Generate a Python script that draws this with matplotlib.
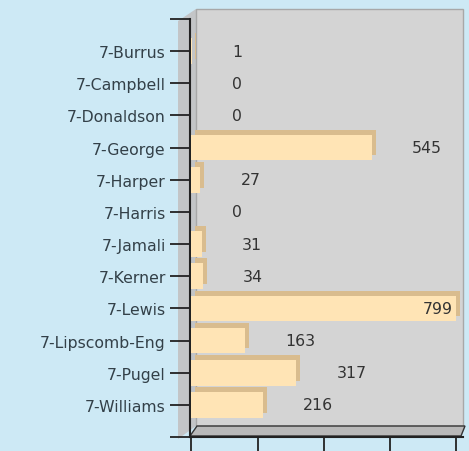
import matplotlib
matplotlib.use("Agg")
import matplotlib.pyplot as plt
import matplotlib.transforms as mtransforms
from matplotlib.patches import Polygon, Rectangle

names = ["7-Burrus", "7-Campbell", "7-Donaldson", "7-George", "7-Harper", "7-Harris",
         "7-Jamali", "7-Kerner", "7-Lewis", "7-Lipscomb-Eng", "7-Pugel", "7-Williams"]
votes = [1, 0, 0, 545, 27, 0, 31, 34, 799, 163, 317, 216]
x_ticks = [0, 200, 400, 600, 800]

W, H = 469, 452
fig = plt.figure(figsize=(W / 100, H / 100), dpi=100, facecolor="#cde9f5")


def px(x, y):
    # pixel coords (top-left origin) -> figure fraction
    return (x / W, 1 - y / H)


# 3d box decoration: left wall, back wall, floor
fig.patches.append(Polygon([px(178, 22), px(196, 10), px(196, 427), px(178, 440)],
                           closed=True, transform=fig.transFigure,
                           facecolor="#c3c5c7", edgecolor="none", zorder=0))
fig.patches.append(Rectangle(px(196, 427), 267 / W, 417 / H, transform=fig.transFigure,
                             facecolor="#d4d4d4", edgecolor="#a8a8a8", lw=1, zorder=0))
fig.patches.append(Polygon([px(190, 437), px(197, 427), px(465, 427), px(461, 437)],
                           closed=True, transform=fig.transFigure,
                           facecolor="#b9b9b9", edgecolor="#333333", lw=1, zorder=0))

ax = fig.add_axes([190 / W, (H - 438) / H, 273 / W, 418 / H])
ax.set_facecolor("none")
ax.set_zorder(2)

ypos = list(range(len(names)))
shadow = ax.transData + mtransforms.ScaledTranslation(4 / 100, 5 / 100, fig.dpi_scale_trans)
ax.barh(ypos, votes, height=0.8, color="#d9bc8e", transform=shadow, zorder=2)
ax.barh(ypos, votes, height=0.8, color="#ffe4b5", zorder=3)

xmax = 821
ax.set_xlim(-4.5, xmax)
ax.set_ylim(12, -1)

for y, v in zip(ypos, votes):
    if v > 650:
        ax.annotate(str(v), (v, y), xytext=(-2, 0), textcoords="offset points",
                    ha="right", va="center", fontsize=11.3, color="#333333", zorder=4)
    else:
        ax.annotate(str(v), (v, y), xytext=(29, 0), textcoords="offset points",
                    ha="left", va="center", fontsize=11.3, color="#333333", zorder=4)

ax.set_yticks([-1] + ypos + [12])
ax.set_yticklabels([""] + names + [""], fontsize=11.3, color="#334048")
ax.tick_params(axis="y", direction="out", length=14.4, width=1.3, pad=3, color="#222222")
ax.set_xticks(x_ticks)
ax.set_xticklabels([])
ax.tick_params(axis="x", direction="out", length=11, width=1.3, color="#222222")

for s in ["top", "right"]:
    ax.spines[s].set_visible(False)
ax.spines["left"].set_linewidth(1.5)
ax.spines["bottom"].set_linewidth(1.5)
ax.spines["left"].set_color("#222222")
ax.spines["bottom"].set_color("#222222")

fig.savefig("out.png", dpi=100, facecolor=fig.get_facecolor())
